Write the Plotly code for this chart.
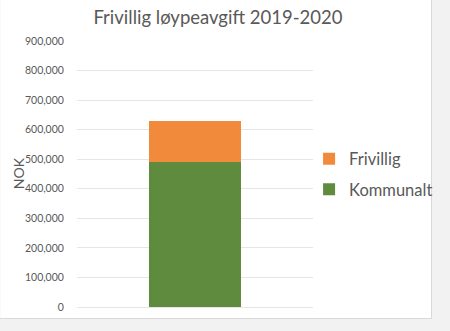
import plotly.graph_objects as go

categories = ["2019-2020"]
kommunalt = [490000]
frivillig = [138000]
series_names = ["Kommunalt", "Frivillig"]
title_text = "Frivillig løypeavgift 2019-2020"
y_title = "NOK"
y_ticks = [0, 100000, 200000, 300000, 400000, 500000, 600000, 700000, 800000, 900000]

GREEN = "#5E8B3E"
ORANGE = "#F28A3B"
TXT = "#595959"
FONT = "Lato"

L, R, T, B = 77, 132, 41, 24
W, H = 450, 331
pw = W - L - R
ph = H - T - B

def px_x(p):
    return (p - L) / pw

def px_y(p):
    return (H - B - p) / ph

fig = go.Figure()
fig.add_trace(go.Bar(x=categories, y=kommunalt, name=series_names[0], marker_color=GREEN,
                     marker_line_width=0, width=0.394, legendgroup="k", legendrank=2))
fig.add_trace(go.Bar(x=categories, y=frivillig, name=series_names[1], marker_color=ORANGE,
                     marker_line_width=0, width=0.394, legendgroup="f", legendrank=1))

fig.update_layout(
    width=W, height=H,
    margin=dict(l=L, r=R, t=T, b=B, pad=0),
    barmode="stack",
    paper_bgcolor="#F2F2F2",
    plot_bgcolor="rgba(0,0,0,0)",
    font=dict(family=FONT, color=TXT),
    title=dict(text=title_text, font=dict(size=18.5, color=TXT, family=FONT),
               x=218 / W, xref="container", xanchor="center",
               y=1 - 18 / H, yref="container", yanchor="middle"),
    legend=dict(x=px_x(314), xanchor="left", y=px_y(174), yanchor="middle",
                font=dict(size=16.5, color=TXT, family=FONT),
                traceorder="grouped", tracegroupgap=6,
                bgcolor="rgba(0,0,0,0)"),
    showlegend=True,
    shapes=[dict(type="rect", xref="paper", yref="paper",
                 x0=px_x(-2), x1=px_x(439), y0=px_y(318.5), y1=px_y(-2),
                 fillcolor="white", line=dict(color="#D9D9D9", width=1), layer="below")],
    annotations=[dict(text=y_title, xref="paper", yref="paper", x=px_x(17), y=px_y(173),
                      xanchor="center", yanchor="middle", textangle=-90, showarrow=False,
                      font=dict(size=14, color=TXT, family=FONT))],
)
fig.update_xaxes(showticklabels=False, showgrid=False, zeroline=False, showline=False,
                 range=[-0.5, 0.5])
fig.update_yaxes(range=[0, 900000], tickvals=y_ticks, tickformat=",",
                 showgrid=True, gridcolor="#E6E6E6", gridwidth=1,
                 zeroline=True, zerolinecolor="#E6E6E6", zerolinewidth=1,
                 showline=False,
                 ticks="outside", ticklen=10, tickcolor="rgba(0,0,0,0)",
                 tickfont=dict(size=10.5, color=TXT, family=FONT))

fig.write_html("out.html")
